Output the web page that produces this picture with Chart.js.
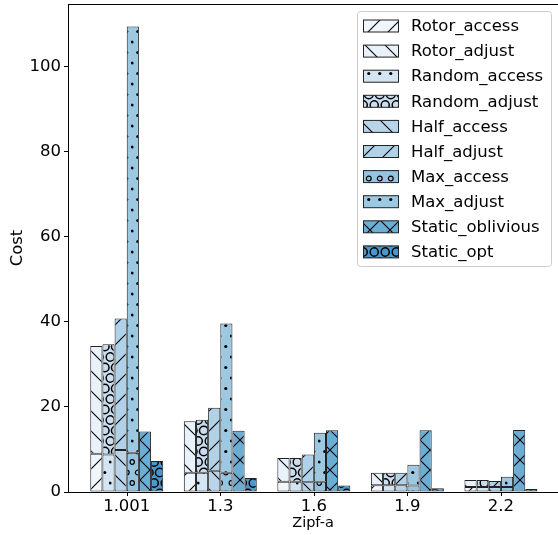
<!DOCTYPE html>
<html>
<head>
<meta charset="utf-8">
<script src="https://cdn.jsdelivr.net/npm/chart.js@4.4.0/dist/chart.umd.min.js"></script>
<style>
html, body { margin: 0; padding: 0; background: #fff; overflow: hidden; }
</style>
</head>
<body>
<canvas id="cost-chart" width="558" height="535"></canvas>
<script>
// values (adjust = segment stacked on top of access)
var categories = ['1.001', '1.3', '1.6', '1.9', '2.2'];
var rotorAccess = [9.0, 4.5, 2.4, 1.6, 1.2];
var rotorAdjust = [25.3, 12.1, 5.6, 2.9, 1.6];
var randomAccess = [8.8, 4.5, 2.4, 1.6, 1.2];
var randomAdjust = [25.9, 12.5, 5.6, 2.9, 1.6];
var halfAccess = [9.9, 5.0, 2.3, 1.6, 1.2];
var halfAdjust = [30.9, 14.8, 6.5, 2.9, 1.4];
var maxAccess = [9.2, 4.5, 2.4, 1.5, 1.2];
var maxAdjust = [100.2, 35.1, 11.5, 4.9, 2.4];
var staticOblivious = [14.2, 14.4, 14.5, 14.5, 14.6];
var staticOpt = [7.3, 3.3, 1.5, 0.9, 0.7];
var yTicks = [0, 20, 40, 60, 80, 100];

var seriesNames = ['Rotor_access', 'Rotor_adjust', 'Random_access', 'Random_adjust', 'Half_access',
    'Half_adjust', 'Max_access', 'Max_adjust', 'Static_oblivious', 'Static_opt'];
var seriesValues = [rotorAccess, rotorAdjust, randomAccess, randomAdjust, halfAccess,
    halfAdjust, maxAccess, maxAdjust, staticOblivious, staticOpt];
var seriesStacks = ['rotor', 'rotor', 'random', 'random', 'half', 'half', 'max', 'max', 'obl', 'opt'];
var seriesHatches = ['/', '\\', '.', 'O', '\\', '/', 'o', '.', 'x', 'O'];
var seriesColors = ['#eff6fc', '#e9f2fb', '#d3e4f3', '#cadef0', '#b7d4ea',
    '#b0d2e8', '#94c4df', '#9cc9e1', '#6aaed6', '#4a98c9'];

var LINE_P = 20;   // hatch line period
var DOT_P = 11.5;  // shape hatch period (horizontal)
var DOT_ROW = 10.5;

function makePattern(color, hatch) {
    var c = document.createElement('canvas');
    var shape = hatch === '.' || hatch === 'o' || hatch === 'O';
    var w = shape ? DOT_P : LINE_P;
    var h = shape ? DOT_ROW * 2 : LINE_P;
    c.width = w;
    c.height = h;
    var g = c.getContext('2d');
    g.fillStyle = color;
    g.fillRect(0, 0, w, h);
    g.strokeStyle = '#000';
    g.fillStyle = '#000';
    g.lineWidth = 1.1;
    var S = LINE_P;
    if (hatch === '/' || hatch === 'x') {
        g.beginPath();
        g.moveTo(-2, S + 2); g.lineTo(S + 2, -2);
        g.moveTo(-2, 2); g.lineTo(2, -2);
        g.moveTo(S - 2, S + 2); g.lineTo(S + 2, S - 2);
        g.stroke();
    }
    if (hatch === '\\' || hatch === 'x') {
        g.beginPath();
        g.moveTo(-2, -2); g.lineTo(S + 2, S + 2);
        g.moveTo(-2, S - 2); g.lineTo(2, S + 2);
        g.moveTo(S - 2, -2); g.lineTo(S + 2, 2);
        g.stroke();
    }
    if (shape) {
        var r = hatch === '.' ? 1.6 : (hatch === 'o' ? 2.4 : 4.3);
        g.lineWidth = hatch === 'O' ? 1.5 : 1.2;
        var pts = [[0, 0], [w, 0], [0, h], [w, h], [w / 2, DOT_ROW]];
        pts.forEach(function (p) {
            g.beginPath();
            g.arc(p[0], p[1], r, 0, 2 * Math.PI);
            if (hatch === '.') g.fill(); else g.stroke();
        });
    }
    return g.createPattern(c, 'repeat');
}

var patterns = seriesHatches.map(function (h, i) { return makePattern(seriesColors[i], h); });

var datasets = seriesNames.map(function (name, i) {
    return {
        label: name,
        data: seriesValues[i].map(function (v, j) { return {x: j, y: v}; }),
        stack: seriesStacks[i],
        backgroundColor: patterns[i],
        borderColor: '#222222',
        borderWidth: 1,
        borderSkipped: false
    };
});

// top spine and the x tick marks
var frameLines = {
    id: 'frameLines',
    afterDraw: function (chart) {
        var a = chart.chartArea, ctx = chart.ctx, xs = chart.scales.x;
        ctx.save();
        ctx.strokeStyle = '#000';
        ctx.lineWidth = 1;
        ctx.beginPath();
        ctx.moveTo(a.left, a.top + 0.5);
        ctx.lineTo(a.right, a.top + 0.5);
        categories.forEach(function (_, i) {
            var px = Math.round(xs.getPixelForValue(i)) + 0.5;
            ctx.moveTo(px, a.bottom);
            ctx.lineTo(px, a.bottom + 4);
        });
        ctx.stroke();
        ctx.restore();
    }
};

var legendBox = {
    id: 'legendBox',
    afterDraw: function (chart) {
        var ctx = chart.ctx;
        ctx.save();
        ctx.fillStyle = 'rgba(255,255,255,0.8)';
        ctx.strokeStyle = '#cccccc';
        ctx.lineWidth = 1;
        ctx.beginPath();
        ctx.roundRect(357.5, 11.5, 194, 255, 3);
        ctx.fill();
        ctx.stroke();
        ctx.font = '16.5px "DejaVu Sans"';
        ctx.textBaseline = 'middle';
        seriesNames.forEach(function (name, i) {
            var cy = 26 + i * 25.1;
            ctx.fillStyle = patterns[i];
            ctx.fillRect(363.5, cy - 6, 35, 12);
            ctx.strokeStyle = '#222222';
            ctx.strokeRect(363.5, cy - 6, 35, 12);
            ctx.fillStyle = '#000';
            ctx.fillText(name, 411, cy + 1);
        });
        ctx.restore();
    }
};

Chart.defaults.font.family = '"DejaVu Sans", sans-serif';
Chart.defaults.color = '#000';

var ctx = document.getElementById('cost-chart').getContext('2d');
var myChart = new Chart(ctx, {
    type: 'bar',
    data: { datasets: datasets },
    options: {
        responsive: false,
        animation: false,
        layout: { padding: { top: 4, left: 0, right: 0, bottom: 0 } },
        plugins: { legend: { display: false }, tooltip: { enabled: false } },
        datasets: { bar: { categoryPercentage: 0.78, barPercentage: 1.0 } },
        scales: {
            x: {
                type: 'linear',
                stacked: true,
                min: -0.628,
                max: 4.61,
                offset: false,
                afterBuildTicks: function (scale) {
                    scale.ticks = categories.map(function (_, i) { return {value: i}; });
                },
                afterFit: function (scale) {
                    scale.height = 43;
                    scale.paddingLeft = 0;
                    scale.paddingRight = 0;
                },
                ticks: {
                    font: { size: 16.5 },
                    padding: 5,
                    maxRotation: 0,
                    autoSkip: false,
                    callback: function (v) { return categories[v]; }
                },
                grid: { display: false, drawTicks: false },
                border: { display: true, color: '#000', width: 1 },
                title: { display: true, text: 'Zipf-a', font: { size: 14.5 }, padding: { top: 3, bottom: 3 } }
            },
            y: {
                stacked: true,
                min: 0,
                max: 114.7,
                afterBuildTicks: function (scale) {
                    scale.ticks = yTicks.map(function (v) { return {value: v}; });
                },
                afterFit: function (scale) {
                    scale.width = 68;
                    scale.paddingTop = 0;
                    scale.paddingBottom = 0;
                },
                ticks: { font: { size: 16.5 }, padding: 3 },
                grid: { drawOnChartArea: false, drawTicks: true, tickLength: 4, color: '#000' },
                border: { display: true, color: '#000', width: 1 },
                title: { display: true, text: 'Cost', font: { size: 16.5 }, padding: { top: 7.5, bottom: 7.5 } }
            }
        }
    },
    plugins: [frameLines, legendBox]
});
</script>
</body>
</html>
